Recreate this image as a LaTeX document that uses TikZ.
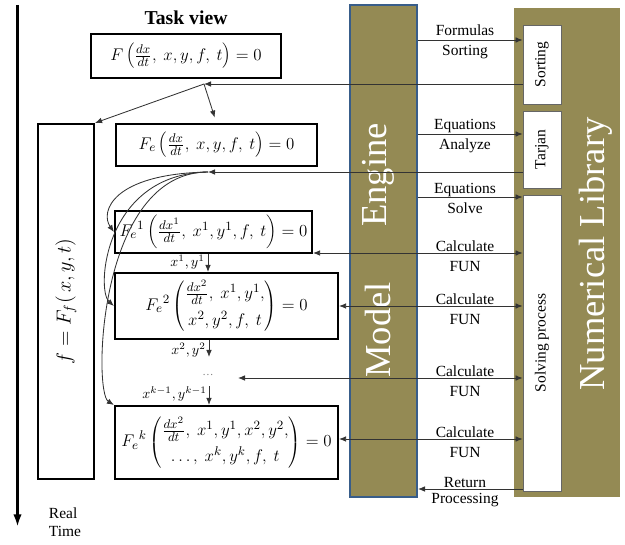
\documentclass[tikz,border=0pt]{standalone}
\usepackage{fontspec}
\setmainfont{Liberation Serif}
\usetikzlibrary{arrows.meta}

\definecolor{libolive}{HTML}{948A54}
\definecolor{engblue}{HTML}{385D8A}
\newcommand\lblfont{\fontsize{11}{13}\selectfont}
\newcommand\bigfont{\fontsize{26}{30}\selectfont}
\DeclareMathSizes{11.5}{11.5}{9}{7}

\tikzset{
  eqbox/.style={draw, line width=1.5pt, inner sep=0pt, font=\fontsize{11.5}{14}\selectfont},
  libbox/.style={draw=black!60, fill=white, line width=0.6pt, minimum width=0.95cm, inner sep=0pt, font=\lblfont},
  link/.style={draw=black!80, line width=0.6pt},
  callout/.style={font=\lblfont, anchor=base},
  colname/.style={white, font=\bigfont},
  varlbl/.style={font=\fontsize{10}{12}\selectfont, anchor=east, inner sep=0pt},
}

\begin{document}
\begin{tikzpicture}[x=0.025cm, y=-0.025cm, >={Latex[length=5pt,width=4pt]}]
\useasboundingbox (0,0) rectangle (625,545);

% real time axis
\coordinate (ttop) at (17.5,5);
\coordinate (tbot) at (17.5,527);
\draw[line width=2pt, -{Latex[length=9pt,width=6pt]}] (ttop) -- (tbot);
\node[font=\lblfont, align=left, anchor=north west] (rtime) at (44,503) {Real\\Time};

% task view boxes
\node[font=\fontsize{14}{16}\selectfont\bfseries] (title) at (186,18) {Task view};
\node[eqbox, minimum width=4.75cm, minimum height=1.1cm] (task) at (186,56)
  {$F\left(\frac{dx}{dt},\ x,y,f,\ t\right)=0$};
\node[eqbox, minimum width=1.4cm, minimum height=8.875cm, font=\fontsize{14.4}{17}\selectfont] (ff) at (66,301.5)
  {\rotatebox{90}{$f=F_f(\,x,y,t)$}};
\node[eqbox, minimum width=5.025cm, minimum height=1.05cm] (fe) at (216.5,145)
  {$F_e\left(\frac{dx}{dt},\ x,y,f,\ t\right)=0$};
\node[eqbox, minimum width=4.925cm, minimum height=1.05cm] (fe1) at (213.5,232)
  {${F_e}^1\left(\frac{dx^1}{dt},\ x^1,y^1,f,\ t\right)=0$};
\node[eqbox, minimum width=5.575cm, minimum height=1.65cm] (fe2) at (226.5,306)
  {${F_e}^2\left(\begin{array}{@{}c@{}}\frac{dx^2}{dt},\ x^1,y^1,\\[5pt] x^2,y^2,f,\ t\end{array}\right)=0$};
\node[eqbox, minimum width=5.575cm, minimum height=1.825cm] (fek) at (226.5,442.5)
  {${F_e}^k\left(\begin{array}{@{}c@{}}\frac{dx^2}{dt},\ x^1,y^1,x^2,y^2,\\[4pt] \dots,\ x^k,y^k,f,\ t\end{array}\right)=0$};

% engine / model column
\node[fill=libolive, draw=engblue, line width=1.4pt, minimum width=1.675cm, minimum height=12.3cm] (engcol) at (383.5,251) {};
\node[colname] (engtxt) at (378,175) {\rotatebox{90}{Engine}};
\node[colname] (modtxt) at (378,330) {\rotatebox{90}{Model}};

% numerical library column
\node[fill=libolive, minimum width=2.65cm, minimum height=12.225cm] (libcol) at (567,252.5) {};
\node[colname] (libtxt) at (596,254) {\rotatebox{90}{Numerical Library}};
\node[libbox, minimum height=1.975cm] (sortbox) at (542,64.5) {\rotatebox{90}{Sorting}};
\node[libbox, minimum height=1.925cm] (tarjbox) at (542,149.5) {\rotatebox{90}{Tarjan}};
\node[libbox, minimum height=7.4cm] (solvbox) at (542,343) {\rotatebox{90}{Solving process}};

% flow between the equation blocks
\coordinate (flowx) at (208,0);
\coordinate (f2out) at (209,357);
\coordinate (kin) at (209,386);
\coordinate (dotsin) at (238,378);
\node[black!50, font=\footnotesize] (dots) at (208,375) {\dots};
\draw[link,->] (fe1.south -| flowx) -- (fe2.north -| flowx);
\draw[link,->] (fe2.south -| f2out) -- (f2out);
\draw[link,->] (kin) -- (fek.north -| kin);
\node[varlbl] (xy1) at (205,262) {$x^1,y^1$};
\node[varlbl] (xy2) at (206,350) {$x^2,y^2$};
\node[varlbl] (xyk) at (207,394) {$x^{k-1},y^{k-1}$};

% results coming back from the library
\coordinate (split1) at (204,84);
\coordinate (split2) at (208,172);
\draw[link,->] (sortbox.west |- split1) -- (split1);
\draw[link,->] (tarjbox.west |- split2) -- (split2);
\draw[link,->] (split1) -- (ff.north east);
\draw[link,->, shorten >=4pt] (split1) -- (fe.north);
\draw[link,->] (split2) .. controls (112,174) and (100,212) .. (fe1.west);
\draw[link,->] (split2) .. controls (104,174) and (96,290) .. (fe2.west);
\draw[link,->] (split2) .. controls (98,172) and (93,392) .. (fek.north west);

% engine calls into the library
\foreach \y/\up/\dn/\dest in {40/Formulas/Sorting/sortbox, 134/Equations/Analyze/tarjbox, 197/Equations/Solve/solvbox} {
  \draw[link,->] (engcol.east |- 0,\y) -- (\dest.west |- 0,\y);
  \node[callout] (up\y) at (465,\y-4) {\up};
  \node[callout] (dn\y) at (465,\y+16) {\dn};
}

% function evaluations
\foreach \src/\y in {fe1.south east/253, fe2.east/306, dotsin/378, fek.east/439} {
  \draw[link,<->] (\src |- 0,\y) -- (solvbox.west |- 0,\y);
  \node[callout] (calc\y) at (465,\y-2) {Calculate};
  \node[callout] (fun\y) at (465,\y+18) {FUN};
}

\draw[link,->] (solvbox.west |- 0,489) -- (engcol.east |- 0,489);
\node[callout] (ret) at (465,487) {Return};
\node[callout] (proc) at (465,503) {Processing};
\end{tikzpicture}
\end{document}
